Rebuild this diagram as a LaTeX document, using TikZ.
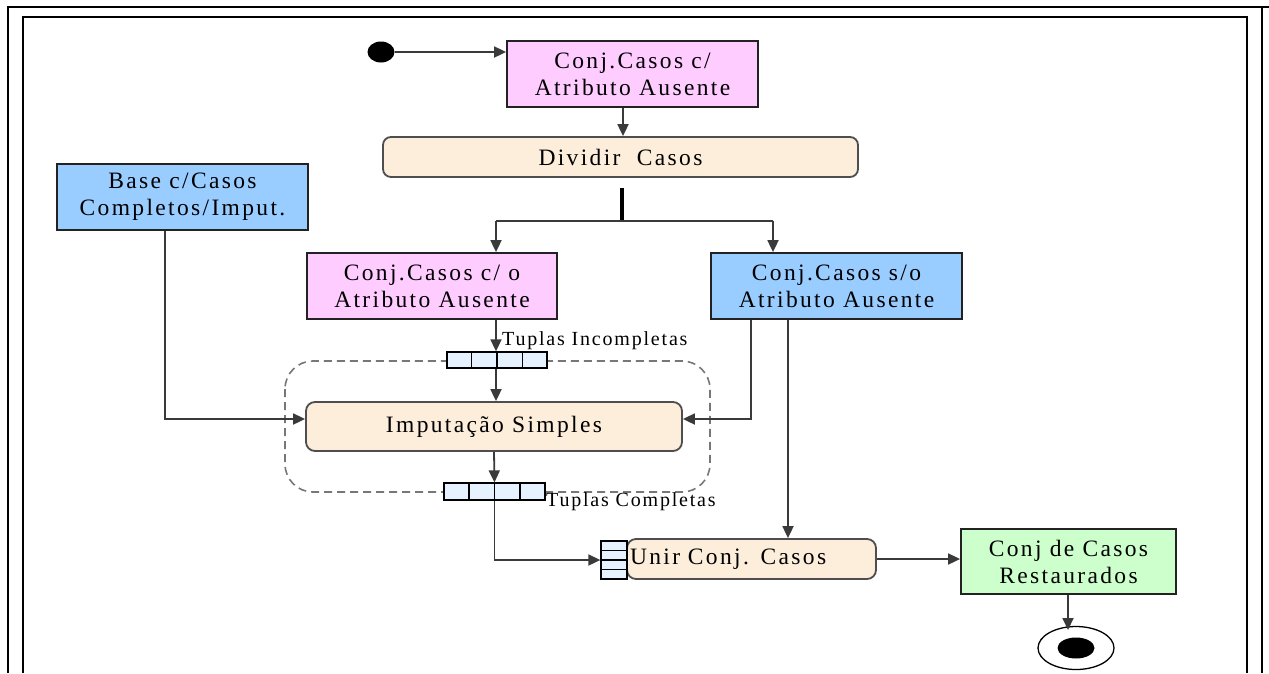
\documentclass[tikz,border=0pt]{standalone}
\usepackage{fontspec}
\setmainfont{Liberation Serif}
\newfontfamily\boxfont{Liberation Serif}[LetterSpace=10]
\newfontfamily\tagfont{Liberation Serif}[LetterSpace=9]
\usetikzlibrary{arrows.meta,shapes.geometric,calc}

\definecolor{pinkfill}{HTML}{FFCCFF}
\definecolor{bluefill}{HTML}{99CCFF}
\definecolor{peachfill}{HTML}{FDEEDC}
\definecolor{greenfill}{HTML}{CCFFCC}
\definecolor{pinfill}{HTML}{E6F2FF}
\definecolor{edgecol}{HTML}{222222}
\definecolor{linecol}{HTML}{3A3A3A}
\definecolor{dashcol}{HTML}{777777}

\begin{document}
\begin{tikzpicture}[x=1pt,y=-1pt,
  frame/.style={line width=2.6pt,black},
  objbox/.style={rectangle,draw=edgecol,line width=1.8pt,align=center,
    inner sep=0pt,font=\boxfont\fontsize{23.5}{27}\selectfont},
  actbox/.style={rectangle,rounded corners=9pt,draw=edgecol!80,line width=1.8pt,
    fill=peachfill,align=center,inner sep=0pt,font=\boxfont\fontsize{23.5}{27}\selectfont},
  pinbox/.style={rectangle,draw=black,line width=1.3pt,fill=pinfill,inner sep=0pt},
  conn/.style={line width=1.8pt,draw=linecol},
  arr/.style={conn,-{Triangle[length=12pt,width=11pt]}},
  tag/.style={font=\tagfont\fontsize{20}{22}\selectfont,inner sep=0pt,anchor=west},
  ]
\useasboundingbox (0,0) rectangle (1269,673);

% page frame
\draw[frame] (8,673) -- (8,7) -- (1269,7);
\draw[frame] (1262,7) -- (1262,673);
\draw[frame] (23,673) -- (23,17) -- (1247,17) -- (1247,673);

% column / row helpers
\coordinate (cA) at (623,0);
\coordinate (cL) at (496,0);
\coordinate (cR) at (773,0);
\coordinate (cS1) at (751,0);
\coordinate (cS2) at (788,0);
\coordinate (cB) at (165,0);
\coordinate (cE) at (1068,0);
\coordinate (rowI) at (0,419);
\coordinate (rowS) at (0,52);
\coordinate (rowE) at (0,630);

% region around the imputation step
\draw[dashcol,line width=1.6pt,dash pattern=on 8pt off 5pt,rounded corners=28pt]
  (285,361) rectangle (710,492);

% nodes
\node[ellipse,fill=black,minimum width=27pt,minimum height=21pt,inner sep=0pt] (start) at (381,52) {};
\node[objbox,fill=pinkfill,minimum width=251pt,minimum height=66pt] (box1) at (632.5,74)
  {Conj.Casos c/\\Atributo Ausente};
\node[actbox,rounded corners=8pt,minimum width=475pt,minimum height=40pt] (divide) at (620.5,157)
  {Dividir\ \ Casos};
\node[rectangle,fill=black,minimum width=4pt,minimum height=33pt,inner sep=0pt] (fork) at (622,204) {};
\node[objbox,fill=bluefill,minimum width=251pt,minimum height=66pt] (base) at (182.5,197)
  {Base c/Casos\\Completos/Imput.};
\node[objbox,fill=pinkfill,minimum width=250pt,minimum height=66pt] (box2) at (432,286)
  {Conj.Casos c/ o\\Atributo Ausente};
\node[objbox,fill=bluefill,minimum width=251pt,minimum height=66pt] (box3) at (836.5,286)
  {Conj.Casos s/o\\Atributo Ausente};
\node[actbox,minimum width=376pt,minimum height=49pt] (imput) at (494,426.5)
  {Imputação Simples};
\node[actbox,minimum width=249pt,minimum height=40pt,text width=243pt,align=left,inner xsep=3pt]
  (unir) at (751.5,559) {Unir Conj. Casos};
\node[objbox,fill=greenfill,minimum width=215pt,minimum height=65pt] (box4) at (1068.5,561.5)
  {Conj de Casos\\Restaurados};

% pins
\node[pinbox,minimum width=100pt,minimum height=16pt] (pinTop) at (497,360) {};
\node[pinbox,minimum width=101pt,minimum height=17pt] (pinBot) at (494.5,491.5) {};
\node[pinbox,minimum width=26pt,minimum height=38pt] (pinUnir) at (614,560) {};
\foreach \i in {1,2,3}{
  \draw[line width=1.3pt] ($(pinTop.north west)!\i/4!(pinTop.north east)$) -- ($(pinTop.south west)!\i/4!(pinTop.south east)$);
  \draw[line width=1.3pt] ($(pinBot.north west)!\i/4!(pinBot.north east)$) -- ($(pinBot.south west)!\i/4!(pinBot.south east)$);
  \draw[line width=1.3pt] ($(pinUnir.north west)!\i/4!(pinUnir.south west)$) -- ($(pinUnir.north east)!\i/4!(pinUnir.south east)$);
}

\node[tag] (tagIn) at (502,341) {Tuplas Incompletas};
\node[tag] (tagOut) at (546,502) {Tuplas Completas};

% final node
\node[ellipse,draw=black,line width=1.3pt,minimum width=76pt,minimum height=43pt,inner sep=0pt] (finish) at (1076,648) {};
\node[ellipse,fill=black,minimum width=37pt,minimum height=21pt,inner sep=0pt] (finishdot) at (1076,648) {};

% connectors
\draw[arr] (start.east |- rowS) -- (box1.west |- rowS);
\draw[arr] (box1.south -| cA) -- (divide.north -| cA);
\draw[conn] (cL |- fork.south) -- (cR |- fork.south);
\draw[arr] (cL |- fork.south) -- (cL |- box2.north);
\draw[arr] (cR |- fork.south) -- (cR |- box3.north);
\draw[arr] (box2.south -| cL) -- (pinTop.north -| cL);
\draw[arr] (pinTop.south -| cL) -- (imput.north -| cL);
\draw[arr] (base.south -| cB) |- (imput.west |- rowI);
\draw[arr] (box3.south -| cS1) |- (imput.east |- rowI);
\draw[arr] (box3.south -| cS2) -- (unir.north -| cS2);
\draw[arr] (imput.south) -- (pinBot.north);
\draw[arr] (pinBot.south) |- (pinUnir.west);
\draw[arr] (unir.east) -- (box4.west |- unir.east);
\draw[arr] (box4.south -| cE) -- (cE |- rowE);
\end{tikzpicture}
\end{document}
